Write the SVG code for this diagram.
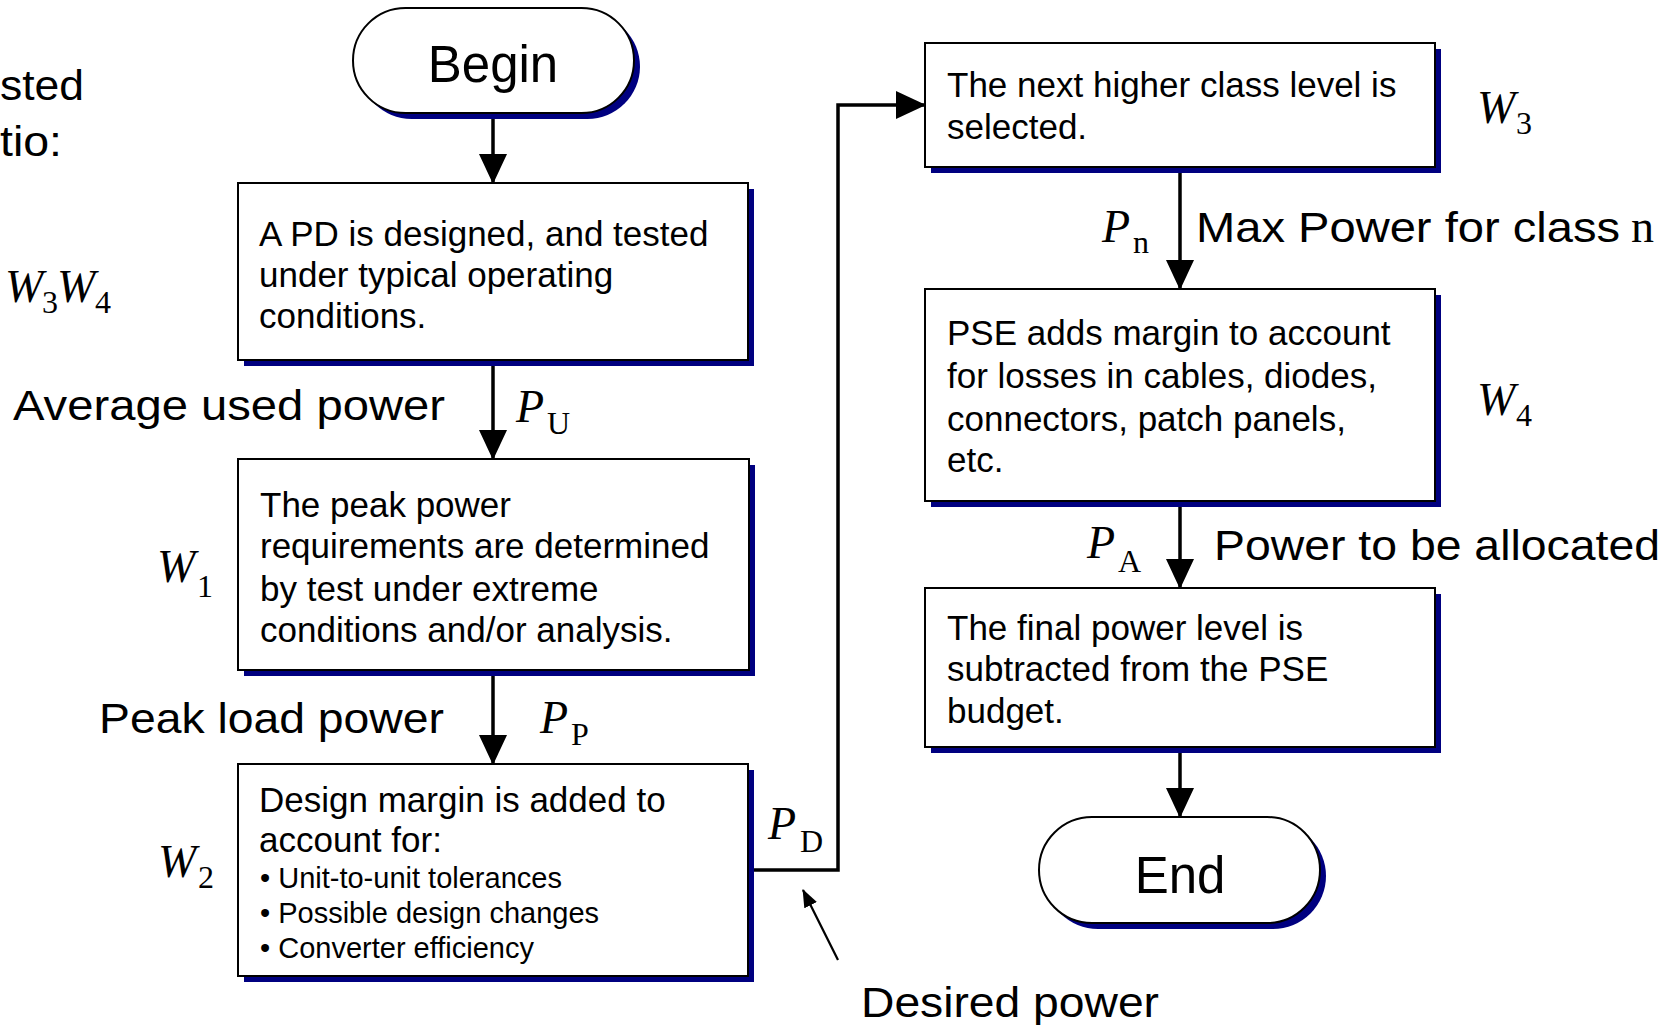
<svg xmlns="http://www.w3.org/2000/svg" width="1680" height="1025" viewBox="0 0 1680 1025">
<style>
.box{fill:#fff;stroke:#000;stroke-width:2}
.sh{fill:#000080}
.bt{font-family:"Liberation Sans",Arial,sans-serif;font-size:35px;fill:#000}
.bl{font-family:"Liberation Sans",Arial,sans-serif;font-size:29px;fill:#000}
.lab{font-family:"Liberation Sans",Arial,sans-serif;font-size:42.5px;fill:#000}
.term{font-family:"Liberation Sans",Arial,sans-serif;font-size:51px;fill:#000;text-anchor:middle}
.v{font-family:"Liberation Serif","Times New Roman",serif;font-size:46px;font-style:italic;fill:#000}
.s{font-family:"Liberation Serif","Times New Roman",serif;font-size:32px;fill:#000}
.c{fill:none;stroke:#000;stroke-width:3.5}
.thin{fill:none;stroke:#000;stroke-width:2.2}
</style>
<defs>
<marker id="ah" markerUnits="userSpaceOnUse" markerWidth="30" markerHeight="28" refX="29" refY="14" orient="auto" viewBox="0 0 30 28">
<path d="M0,0 L30,14 L0,28 z" fill="#000"/>
</marker>
<marker id="ahs" markerUnits="userSpaceOnUse" markerWidth="18" markerHeight="14" refX="17" refY="7" orient="auto" viewBox="0 0 18 14">
<path d="M0,0 L18,7 L0,14 z" fill="#000"/>
</marker>
</defs>

<g id="fragments">
<text class="lab" x="0" y="100" textLength="84" lengthAdjust="spacingAndGlyphs">sted</text>
<text class="lab" x="0" y="156" textLength="62" lengthAdjust="spacingAndGlyphs">tio:</text>
<text class="v" x="5" y="302">W</text><text class="s" x="42" y="313">3</text>
<text class="v" x="57" y="302">W</text><text class="s" x="95" y="313">4</text>
</g>

<g id="connectors">
<line class="c" x1="493" y1="113" x2="493" y2="183" marker-end="url(#ah)"/>
<line class="c" x1="493" y1="360" x2="493" y2="459" marker-end="url(#ah)"/>
<line class="c" x1="493" y1="670" x2="493" y2="764" marker-end="url(#ah)"/>
<polyline class="c" points="748,870 838,870 838,105 925,105" marker-end="url(#ah)"/>
<line class="c" x1="1180" y1="167" x2="1180" y2="289" marker-end="url(#ah)"/>
<line class="c" x1="1180" y1="501" x2="1180" y2="588" marker-end="url(#ah)"/>
<line class="c" x1="1180" y1="747" x2="1180" y2="817" marker-end="url(#ah)"/>
<line class="thin" x1="838" y1="960" x2="803" y2="890" marker-end="url(#ahs)"/>
</g>

<g id="begin">
<rect class="sh" x="359" y="14" width="281" height="105" rx="52.5"/>
<rect class="box" x="353" y="8" width="281" height="105" rx="52.5"/>
<text class="term" x="493" y="82">Begin</text>
</g>

<g id="box1">
<rect class="sh" x="244" y="189" width="510" height="177"/>
<rect class="box" x="238" y="183" width="510" height="177"/>
<text class="bt" x="259" y="246">A PD is designed, and tested</text>
<text class="bt" x="259" y="287">under typical operating</text>
<text class="bt" x="259" y="328">conditions.</text>
</g>

<g id="label-pu">
<text class="lab" x="13" y="420" textLength="432" lengthAdjust="spacingAndGlyphs">Average used power</text>
<text class="v" x="516" y="422">P</text><text class="s" x="547" y="434">U</text>
</g>

<g id="box2">
<rect class="sh" x="244" y="465" width="511" height="211"/>
<rect class="box" x="238" y="459" width="511" height="211"/>
<text class="bt" x="260" y="517">The peak power</text>
<text class="bt" x="260" y="558">requirements are determined</text>
<text class="bt" x="260" y="601">by test under extreme</text>
<text class="bt" x="260" y="642">conditions and/or analysis.</text>
<text class="v" x="157" y="582">W</text><text class="s" x="197" y="597">1</text>
</g>

<g id="label-pp">
<text class="lab" x="99" y="733" textLength="345" lengthAdjust="spacingAndGlyphs">Peak load power</text>
<text class="v" x="540" y="733">P</text><text class="s" x="571" y="745">P</text>
</g>

<g id="box3">
<rect class="sh" x="244" y="770" width="510" height="212"/>
<rect class="box" x="238" y="764" width="510" height="212"/>
<text class="bt" x="259" y="812">Design margin is added to</text>
<text class="bt" x="259" y="852">account for:</text>
<text class="bl" x="260" y="888">• Unit-to-unit tolerances</text>
<text class="bl" x="260" y="923">• Possible design changes</text>
<text class="bl" x="260" y="958">• Converter efficiency</text>
<text class="v" x="158" y="877">W</text><text class="s" x="198" y="888">2</text>
</g>

<g id="label-pd">
<text class="v" x="768" y="839">P</text><text class="s" x="800" y="852">D</text>
<text class="lab" x="861" y="1017" textLength="298" lengthAdjust="spacingAndGlyphs">Desired power</text>
</g>

<g id="box4">
<rect class="sh" x="931" y="49" width="510" height="124"/>
<rect class="box" x="925" y="43" width="510" height="124"/>
<text class="bt" x="947" y="97">The next higher class level is</text>
<text class="bt" x="947" y="139">selected.</text>
<text class="v" x="1477" y="123">W</text><text class="s" x="1516" y="134">3</text>
</g>

<g id="label-pn">
<text class="v" x="1102" y="242">P</text><text class="s" x="1133" y="253">n</text>
<text class="lab" x="1196" y="242" textLength="424" lengthAdjust="spacingAndGlyphs">Max Power for class</text>
<text class="s" x="1631" y="242" style="font-size:46px">n</text>
</g>

<g id="box5">
<rect class="sh" x="931" y="295" width="510" height="212"/>
<rect class="box" x="925" y="289" width="510" height="212"/>
<text class="bt" x="947" y="345">PSE adds margin to account</text>
<text class="bt" x="947" y="388">for losses in cables, diodes,</text>
<text class="bt" x="947" y="431">connectors, patch panels,</text>
<text class="bt" x="947" y="472">etc.</text>
<text class="v" x="1477" y="415">W</text><text class="s" x="1516" y="426">4</text>
</g>

<g id="label-pa">
<text class="v" x="1087" y="558">P</text><text class="s" x="1118" y="572">A</text>
<text class="lab" x="1214" y="560" textLength="446" lengthAdjust="spacingAndGlyphs">Power to be allocated</text>
</g>

<g id="box6">
<rect class="sh" x="931" y="594" width="510" height="159"/>
<rect class="box" x="925" y="588" width="510" height="159"/>
<text class="bt" x="947" y="640">The final power level is</text>
<text class="bt" x="947" y="681">subtracted from the PSE</text>
<text class="bt" x="947" y="723">budget.</text>
</g>

<g id="end">
<rect class="sh" x="1045" y="823" width="281" height="106" rx="53"/>
<rect class="box" x="1039" y="817" width="281" height="106" rx="53"/>
<text class="term" x="1180" y="893">End</text>
</g>
</svg>
